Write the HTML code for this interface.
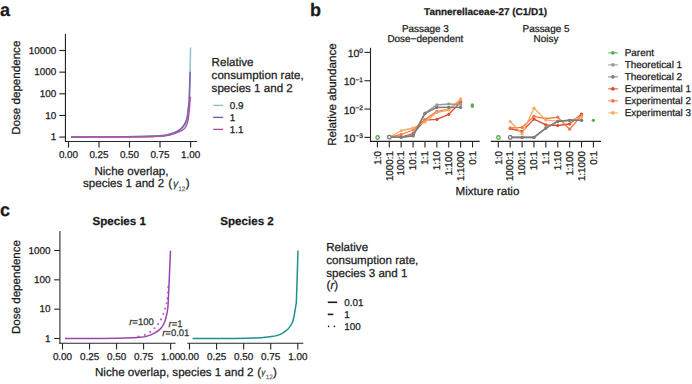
<!DOCTYPE html>
<html><head><meta charset="utf-8"><style>
html,body{margin:0;padding:0;background:#fff;overflow:hidden;}
svg{display:block;font-family:"Liberation Sans", sans-serif;text-rendering:geometricPrecision;}
text{stroke-width:0.25px;paint-order:stroke;}
</style></head><body>
<svg width="692" height="384" viewBox="0 0 692 384">
<rect width="692" height="384" fill="#fff"/>
<text x="0.00" y="15.50" font-size="18" text-anchor="start" font-weight="bold" fill="#1a1a1a" stroke="#1a1a1a" >a</text>
<line x1="65.45" y1="34.00" x2="65.45" y2="142.10" stroke="#262626" stroke-width="1.15" />
<line x1="64.90" y1="141.50" x2="197.00" y2="141.50" stroke="#262626" stroke-width="1.15" />
<line x1="59.30" y1="50.50" x2="65.40" y2="50.50" stroke="#262626" stroke-width="1.15" />
<text x="56.30" y="53.80" font-size="9.9" text-anchor="end" font-weight="normal" fill="#1a1a1a" stroke="#1a1a1a" >10000</text>
<line x1="59.30" y1="72.15" x2="65.40" y2="72.15" stroke="#262626" stroke-width="1.15" />
<text x="56.30" y="75.45" font-size="9.9" text-anchor="end" font-weight="normal" fill="#1a1a1a" stroke="#1a1a1a" >1000</text>
<line x1="59.30" y1="93.80" x2="65.40" y2="93.80" stroke="#262626" stroke-width="1.15" />
<text x="56.30" y="97.10" font-size="9.9" text-anchor="end" font-weight="normal" fill="#1a1a1a" stroke="#1a1a1a" >100</text>
<line x1="59.30" y1="115.45" x2="65.40" y2="115.45" stroke="#262626" stroke-width="1.15" />
<text x="56.30" y="118.75" font-size="9.9" text-anchor="end" font-weight="normal" fill="#1a1a1a" stroke="#1a1a1a" >10</text>
<line x1="59.30" y1="137.10" x2="65.40" y2="137.10" stroke="#262626" stroke-width="1.15" />
<text x="56.30" y="140.40" font-size="9.9" text-anchor="end" font-weight="normal" fill="#1a1a1a" stroke="#1a1a1a" >1</text>
<line x1="68.50" y1="141.50" x2="68.50" y2="147.60" stroke="#262626" stroke-width="1.15" />
<text x="68.50" y="158.30" font-size="9.9" text-anchor="middle" font-weight="normal" fill="#1a1a1a" stroke="#1a1a1a" >0.00</text>
<line x1="99.00" y1="141.50" x2="99.00" y2="147.60" stroke="#262626" stroke-width="1.15" />
<text x="99.00" y="158.30" font-size="9.9" text-anchor="middle" font-weight="normal" fill="#1a1a1a" stroke="#1a1a1a" >0.25</text>
<line x1="129.50" y1="141.50" x2="129.50" y2="147.60" stroke="#262626" stroke-width="1.15" />
<text x="129.50" y="158.30" font-size="9.9" text-anchor="middle" font-weight="normal" fill="#1a1a1a" stroke="#1a1a1a" >0.50</text>
<line x1="160.00" y1="141.50" x2="160.00" y2="147.60" stroke="#262626" stroke-width="1.15" />
<text x="160.00" y="158.30" font-size="9.9" text-anchor="middle" font-weight="normal" fill="#1a1a1a" stroke="#1a1a1a" >0.75</text>
<line x1="190.60" y1="141.50" x2="190.60" y2="147.60" stroke="#262626" stroke-width="1.15" />
<text x="190.60" y="158.30" font-size="9.9" text-anchor="middle" font-weight="normal" fill="#1a1a1a" stroke="#1a1a1a" >1.00</text>
<text transform="translate(20.20,87.70) rotate(-90)" font-size="11.6" text-anchor="middle" font-weight="normal" fill="#1a1a1a" stroke="#1a1a1a">Dose dependence</text>
<text x="94.40" y="174.50" font-size="11.6" text-anchor="start" font-weight="normal" fill="#1a1a1a" stroke="#1a1a1a" >Niche overlap,</text>
<text x="83.00" y="187.40" font-size="11.6" fill="#1a1a1a" stroke="#1a1a1a">species 1 and 2 <tspan dx="0.8">(</tspan><tspan dx="0.9" font-style="italic" font-size="10.4" fill="#3a3a3a" stroke="#3a3a3a">γ</tspan><tspan font-size="6.5" dy="3.1" fill="#777" stroke="#777">12</tspan><tspan dx="0.4" dy="-3.1">)</tspan></text>
<path d="M71.00,137.10 C77.50,137.07 98.50,137.03 110.00,136.95 C121.50,136.87 132.50,136.74 140.00,136.60 C147.50,136.46 150.83,136.30 155.00,136.10 C159.17,135.90 162.29,135.78 165.00,135.40 C167.71,135.03 169.17,134.54 171.25,133.85 C173.33,133.16 175.76,132.21 177.50,131.25 C179.24,130.29 180.48,129.31 181.70,128.10 C182.92,126.89 183.93,125.56 184.80,124.00 C185.67,122.44 186.38,120.67 186.90,118.75 C187.42,116.83 187.59,114.76 187.90,112.50 C188.21,110.24 188.52,107.62 188.75,105.20 C188.98,102.78 189.11,102.20 189.30,98.00 C189.49,93.80 189.70,88.42 189.90,80.00 C190.10,71.58 190.40,52.92 190.50,47.50" fill="none" stroke="#98c6d0" stroke-width="1.6" stroke-linejoin="round" />
<path d="M71.00,137.10 C77.50,137.07 98.50,137.03 110.00,136.95 C121.50,136.87 132.50,136.74 140.00,136.60 C147.50,136.46 150.83,136.30 155.00,136.10 C159.17,135.90 162.29,135.78 165.00,135.40 C167.71,135.03 169.17,134.54 171.25,133.85 C173.33,133.16 175.76,132.21 177.50,131.25 C179.24,130.29 180.48,129.31 181.70,128.10 C182.92,126.89 183.93,125.56 184.80,124.00 C185.67,122.44 186.38,120.67 186.90,118.75 C187.42,116.83 187.59,114.76 187.90,112.50 C188.21,110.24 188.52,107.62 188.75,105.20 C188.98,102.78 189.11,102.20 189.30,98.00 C189.49,93.80 189.75,84.38 189.90,80.00 C190.05,75.62 190.15,73.08 190.20,71.70" fill="none" stroke="#7767b3" stroke-width="1.6" stroke-linejoin="round" />
<path d="M71.00,137.10 C77.50,137.08 98.50,137.05 110.00,137.00 C121.50,136.95 132.50,136.88 140.00,136.80 C147.50,136.72 150.83,136.65 155.00,136.50 C159.17,136.35 161.60,136.43 165.00,135.90 C168.40,135.37 172.62,134.17 175.40,133.30 C178.18,132.43 180.05,131.65 181.70,130.70 C183.35,129.75 184.35,128.90 185.30,127.60 C186.25,126.30 186.88,124.55 187.40,122.90 C187.92,121.25 188.05,120.13 188.40,117.70 C188.75,115.27 189.23,111.08 189.50,108.30 C189.77,105.52 189.83,102.93 190.00,101.00 C190.17,99.07 190.42,97.42 190.50,96.70" fill="none" stroke="#b252a6" stroke-width="1.4" stroke-linejoin="round" />
<text x="211.60" y="66.00" font-size="11.6" text-anchor="start" font-weight="normal" fill="#1a1a1a" stroke="#1a1a1a" >Relative</text>
<text x="211.60" y="79.00" font-size="11.6" text-anchor="start" font-weight="normal" fill="#1a1a1a" stroke="#1a1a1a" >consumption rate,</text>
<text x="211.60" y="92.00" font-size="11.6" text-anchor="start" font-weight="normal" fill="#1a1a1a" stroke="#1a1a1a" >species 1 and 2</text>
<line x1="213.20" y1="105.40" x2="223.20" y2="105.40" stroke="#86c0c4" stroke-width="1.3" />
<text x="229.80" y="108.70" font-size="9.9" text-anchor="start" font-weight="normal" fill="#1a1a1a" stroke="#1a1a1a" >0.9</text>
<line x1="213.20" y1="117.40" x2="223.20" y2="117.40" stroke="#6658a8" stroke-width="1.3" />
<text x="229.80" y="120.70" font-size="9.9" text-anchor="start" font-weight="normal" fill="#1a1a1a" stroke="#1a1a1a" >1</text>
<line x1="213.20" y1="129.40" x2="223.20" y2="129.40" stroke="#aa4a94" stroke-width="1.3" />
<text x="229.80" y="132.70" font-size="9.9" text-anchor="start" font-weight="normal" fill="#1a1a1a" stroke="#1a1a1a" >1.1</text>
<text x="310.00" y="15.60" font-size="18" text-anchor="start" font-weight="bold" fill="#1a1a1a" stroke="#1a1a1a" >b</text>
<text x="485.60" y="15.00" font-size="9.95" text-anchor="middle" font-weight="bold" fill="#1a1a1a" stroke="#1a1a1a" >Tannerellaceae-27 (C1/D1)</text>
<text x="425.40" y="32.30" font-size="9.95" text-anchor="middle" font-weight="normal" fill="#1a1a1a" stroke="#1a1a1a" >Passage 3</text>
<text x="425.40" y="42.20" font-size="9.95" text-anchor="middle" font-weight="normal" fill="#1a1a1a" stroke="#1a1a1a" >Dose−dependent</text>
<text x="546.00" y="32.30" font-size="9.95" text-anchor="middle" font-weight="normal" fill="#1a1a1a" stroke="#1a1a1a" >Passage 5</text>
<text x="546.00" y="42.20" font-size="9.95" text-anchor="middle" font-weight="normal" fill="#1a1a1a" stroke="#1a1a1a" >Noisy</text>
<line x1="370.50" y1="47.80" x2="370.50" y2="141.90" stroke="#262626" stroke-width="1.1" />
<line x1="364.50" y1="52.40" x2="370.50" y2="52.40" stroke="#262626" stroke-width="1.1" />
<text x="363" y="57.10" font-size="10.5" text-anchor="end" fill="#1a1a1a" stroke="#1a1a1a">10<tspan font-size="6.6" dy="-3.7">0</tspan></text>
<line x1="364.50" y1="80.73" x2="370.50" y2="80.73" stroke="#262626" stroke-width="1.1" />
<text x="363" y="85.43" font-size="10.5" text-anchor="end" fill="#1a1a1a" stroke="#1a1a1a">10<tspan font-size="6.6" dy="-3.7">−1</tspan></text>
<line x1="364.50" y1="109.07" x2="370.50" y2="109.07" stroke="#262626" stroke-width="1.1" />
<text x="363" y="113.77" font-size="10.5" text-anchor="end" fill="#1a1a1a" stroke="#1a1a1a">10<tspan font-size="6.6" dy="-3.7">−2</tspan></text>
<line x1="364.50" y1="137.40" x2="370.50" y2="137.40" stroke="#262626" stroke-width="1.1" />
<text x="363" y="142.10" font-size="10.5" text-anchor="end" fill="#1a1a1a" stroke="#1a1a1a">10<tspan font-size="6.6" dy="-3.7">−3</tspan></text>
<text transform="translate(335.90,94.60) rotate(-90)" font-size="11.6" text-anchor="middle" font-weight="normal" fill="#1a1a1a" stroke="#1a1a1a">Relative abundance</text>
<line x1="370.20" y1="141.35" x2="479.70" y2="141.35" stroke="#262626" stroke-width="1.1" />
<line x1="377.40" y1="141.35" x2="377.40" y2="147.50" stroke="#262626" stroke-width="1.1" />
<text transform="translate(380.70,150.90) rotate(-90)" font-size="9.9" text-anchor="end" font-weight="normal" fill="#1a1a1a" stroke="#1a1a1a">1:0</text>
<line x1="389.29" y1="141.35" x2="389.29" y2="147.50" stroke="#262626" stroke-width="1.1" />
<text transform="translate(392.59,150.90) rotate(-90)" font-size="9.9" text-anchor="end" font-weight="normal" fill="#1a1a1a" stroke="#1a1a1a">1000:1</text>
<line x1="401.18" y1="141.35" x2="401.18" y2="147.50" stroke="#262626" stroke-width="1.1" />
<text transform="translate(404.48,150.90) rotate(-90)" font-size="9.9" text-anchor="end" font-weight="normal" fill="#1a1a1a" stroke="#1a1a1a">100:1</text>
<line x1="413.07" y1="141.35" x2="413.07" y2="147.50" stroke="#262626" stroke-width="1.1" />
<text transform="translate(416.37,150.90) rotate(-90)" font-size="9.9" text-anchor="end" font-weight="normal" fill="#1a1a1a" stroke="#1a1a1a">10:1</text>
<line x1="424.96" y1="141.35" x2="424.96" y2="147.50" stroke="#262626" stroke-width="1.1" />
<text transform="translate(428.26,150.90) rotate(-90)" font-size="9.9" text-anchor="end" font-weight="normal" fill="#1a1a1a" stroke="#1a1a1a">1:1</text>
<line x1="436.85" y1="141.35" x2="436.85" y2="147.50" stroke="#262626" stroke-width="1.1" />
<text transform="translate(440.15,150.90) rotate(-90)" font-size="9.9" text-anchor="end" font-weight="normal" fill="#1a1a1a" stroke="#1a1a1a">1:10</text>
<line x1="448.74" y1="141.35" x2="448.74" y2="147.50" stroke="#262626" stroke-width="1.1" />
<text transform="translate(452.04,150.90) rotate(-90)" font-size="9.9" text-anchor="end" font-weight="normal" fill="#1a1a1a" stroke="#1a1a1a">1:100</text>
<line x1="460.63" y1="141.35" x2="460.63" y2="147.50" stroke="#262626" stroke-width="1.1" />
<text transform="translate(463.93,150.90) rotate(-90)" font-size="9.9" text-anchor="end" font-weight="normal" fill="#1a1a1a" stroke="#1a1a1a">1:1000</text>
<line x1="472.52" y1="141.35" x2="472.52" y2="147.50" stroke="#262626" stroke-width="1.1" />
<text transform="translate(475.82,150.90) rotate(-90)" font-size="9.9" text-anchor="end" font-weight="normal" fill="#1a1a1a" stroke="#1a1a1a">0:1</text>
<line x1="490.80" y1="141.35" x2="601.00" y2="141.35" stroke="#262626" stroke-width="1.1" />
<line x1="498.30" y1="141.35" x2="498.30" y2="147.50" stroke="#262626" stroke-width="1.1" />
<text transform="translate(501.60,150.90) rotate(-90)" font-size="9.9" text-anchor="end" font-weight="normal" fill="#1a1a1a" stroke="#1a1a1a">1:0</text>
<line x1="510.19" y1="141.35" x2="510.19" y2="147.50" stroke="#262626" stroke-width="1.1" />
<text transform="translate(513.49,150.90) rotate(-90)" font-size="9.9" text-anchor="end" font-weight="normal" fill="#1a1a1a" stroke="#1a1a1a">1000:1</text>
<line x1="522.08" y1="141.35" x2="522.08" y2="147.50" stroke="#262626" stroke-width="1.1" />
<text transform="translate(525.38,150.90) rotate(-90)" font-size="9.9" text-anchor="end" font-weight="normal" fill="#1a1a1a" stroke="#1a1a1a">100:1</text>
<line x1="533.97" y1="141.35" x2="533.97" y2="147.50" stroke="#262626" stroke-width="1.1" />
<text transform="translate(537.27,150.90) rotate(-90)" font-size="9.9" text-anchor="end" font-weight="normal" fill="#1a1a1a" stroke="#1a1a1a">10:1</text>
<line x1="545.86" y1="141.35" x2="545.86" y2="147.50" stroke="#262626" stroke-width="1.1" />
<text transform="translate(549.16,150.90) rotate(-90)" font-size="9.9" text-anchor="end" font-weight="normal" fill="#1a1a1a" stroke="#1a1a1a">1:1</text>
<line x1="557.75" y1="141.35" x2="557.75" y2="147.50" stroke="#262626" stroke-width="1.1" />
<text transform="translate(561.05,150.90) rotate(-90)" font-size="9.9" text-anchor="end" font-weight="normal" fill="#1a1a1a" stroke="#1a1a1a">1:10</text>
<line x1="569.64" y1="141.35" x2="569.64" y2="147.50" stroke="#262626" stroke-width="1.1" />
<text transform="translate(572.94,150.90) rotate(-90)" font-size="9.9" text-anchor="end" font-weight="normal" fill="#1a1a1a" stroke="#1a1a1a">1:100</text>
<line x1="581.53" y1="141.35" x2="581.53" y2="147.50" stroke="#262626" stroke-width="1.1" />
<text transform="translate(584.83,150.90) rotate(-90)" font-size="9.9" text-anchor="end" font-weight="normal" fill="#1a1a1a" stroke="#1a1a1a">1:1000</text>
<line x1="593.42" y1="141.35" x2="593.42" y2="147.50" stroke="#262626" stroke-width="1.1" />
<text transform="translate(596.72,150.90) rotate(-90)" font-size="9.9" text-anchor="end" font-weight="normal" fill="#1a1a1a" stroke="#1a1a1a">0:1</text>
<text x="487.50" y="195.40" font-size="11.6" text-anchor="middle" font-weight="normal" fill="#1a1a1a" stroke="#1a1a1a" >Mixture ratio</text>
<polyline points="389.29,137.20 401.18,137.20 413.07,133.50 424.96,120.20 436.85,119.40 448.74,114.30 460.63,102.20" fill="none" stroke="#dc4a2c" stroke-width="1.3" stroke-linejoin="round" stroke-linecap="butt" />
<circle cx="389.29" cy="137.20" r="1.6" fill="#dc4a2c"/>
<circle cx="401.18" cy="137.20" r="1.6" fill="#dc4a2c"/>
<circle cx="413.07" cy="133.50" r="1.6" fill="#dc4a2c"/>
<circle cx="424.96" cy="120.20" r="1.6" fill="#dc4a2c"/>
<circle cx="436.85" cy="119.40" r="1.6" fill="#dc4a2c"/>
<circle cx="448.74" cy="114.30" r="1.6" fill="#dc4a2c"/>
<circle cx="460.63" cy="102.20" r="1.6" fill="#dc4a2c"/>
<polyline points="389.29,137.20 401.18,134.50 413.07,130.00 424.96,119.60 436.85,111.40 448.74,109.30 460.63,100.90" fill="none" stroke="#ef784a" stroke-width="1.3" stroke-linejoin="round" stroke-linecap="butt" />
<circle cx="389.29" cy="137.20" r="1.6" fill="#ef784a"/>
<circle cx="401.18" cy="134.50" r="1.6" fill="#ef784a"/>
<circle cx="413.07" cy="130.00" r="1.6" fill="#ef784a"/>
<circle cx="424.96" cy="119.60" r="1.6" fill="#ef784a"/>
<circle cx="436.85" cy="111.40" r="1.6" fill="#ef784a"/>
<circle cx="448.74" cy="109.30" r="1.6" fill="#ef784a"/>
<circle cx="460.63" cy="100.90" r="1.6" fill="#ef784a"/>
<polyline points="389.29,137.20 401.18,130.75 413.07,128.00 424.96,122.00 436.85,112.60 448.74,110.00 460.63,98.90" fill="none" stroke="#f8aa62" stroke-width="1.3" stroke-linejoin="round" stroke-linecap="butt" />
<circle cx="389.29" cy="137.20" r="1.6" fill="#f8aa62"/>
<circle cx="401.18" cy="130.75" r="1.6" fill="#f8aa62"/>
<circle cx="413.07" cy="128.00" r="1.6" fill="#f8aa62"/>
<circle cx="424.96" cy="122.00" r="1.6" fill="#f8aa62"/>
<circle cx="436.85" cy="112.60" r="1.6" fill="#f8aa62"/>
<circle cx="448.74" cy="110.00" r="1.6" fill="#f8aa62"/>
<circle cx="460.63" cy="98.90" r="1.6" fill="#f8aa62"/>
<polyline points="389.29,137.20 401.18,137.20 413.07,135.40 424.96,113.20 436.85,104.90 448.74,103.90 460.63,104.40" fill="none" stroke="#9a9a9a" stroke-width="1.5" stroke-linejoin="round" stroke-linecap="butt" />
<circle cx="389.29" cy="137.20" r="1.75" fill="white" stroke="#9a9a9a" stroke-width="1.3"/>
<circle cx="401.18" cy="137.20" r="1.6" fill="#9a9a9a"/>
<circle cx="413.07" cy="135.40" r="1.6" fill="#9a9a9a"/>
<circle cx="424.96" cy="113.20" r="1.6" fill="#9a9a9a"/>
<circle cx="436.85" cy="104.90" r="1.6" fill="#9a9a9a"/>
<circle cx="448.74" cy="103.90" r="1.6" fill="#9a9a9a"/>
<circle cx="460.63" cy="104.40" r="1.6" fill="#9a9a9a"/>
<polyline points="389.29,137.20 401.18,137.20 413.07,135.90 424.96,113.60 436.85,107.40 448.74,107.30 460.63,107.40" fill="none" stroke="#7c7c7c" stroke-width="1.5" stroke-linejoin="round" stroke-linecap="butt" />
<circle cx="389.29" cy="137.20" r="1.75" fill="white" stroke="#7c7c7c" stroke-width="1.3"/>
<circle cx="401.18" cy="137.20" r="1.6" fill="#7c7c7c"/>
<circle cx="413.07" cy="135.90" r="1.6" fill="#7c7c7c"/>
<circle cx="424.96" cy="113.60" r="1.6" fill="#7c7c7c"/>
<circle cx="436.85" cy="107.40" r="1.6" fill="#7c7c7c"/>
<circle cx="448.74" cy="107.30" r="1.6" fill="#7c7c7c"/>
<circle cx="460.63" cy="107.40" r="1.6" fill="#7c7c7c"/>
<circle cx="377.6" cy="137.5" r="1.75" fill="white" stroke="#52ae4f" stroke-width="1.3"/>
<circle cx="472.3" cy="104.8" r="1.6" fill="#52ae4f"/>
<circle cx="472.3" cy="106.3" r="1.6" fill="#52ae4f"/>
<polyline points="510.19,128.50 522.08,131.50 533.97,119.10 545.86,124.90 557.75,125.50 569.64,124.00 581.53,114.00" fill="none" stroke="#dc4a2c" stroke-width="1.3" stroke-linejoin="round" stroke-linecap="butt" />
<circle cx="510.19" cy="128.50" r="1.6" fill="#dc4a2c"/>
<circle cx="522.08" cy="131.50" r="1.6" fill="#dc4a2c"/>
<circle cx="533.97" cy="119.10" r="1.6" fill="#dc4a2c"/>
<circle cx="545.86" cy="124.90" r="1.6" fill="#dc4a2c"/>
<circle cx="557.75" cy="125.50" r="1.6" fill="#dc4a2c"/>
<circle cx="569.64" cy="124.00" r="1.6" fill="#dc4a2c"/>
<circle cx="581.53" cy="114.00" r="1.6" fill="#dc4a2c"/>
<polyline points="510.19,127.90 522.08,127.40 533.97,116.30 545.86,118.75 557.75,117.20 569.64,129.20 581.53,115.60" fill="none" stroke="#ef784a" stroke-width="1.3" stroke-linejoin="round" stroke-linecap="butt" />
<circle cx="510.19" cy="127.90" r="1.6" fill="#ef784a"/>
<circle cx="522.08" cy="127.40" r="1.6" fill="#ef784a"/>
<circle cx="533.97" cy="116.30" r="1.6" fill="#ef784a"/>
<circle cx="545.86" cy="118.75" r="1.6" fill="#ef784a"/>
<circle cx="557.75" cy="117.20" r="1.6" fill="#ef784a"/>
<circle cx="569.64" cy="129.20" r="1.6" fill="#ef784a"/>
<circle cx="581.53" cy="115.60" r="1.6" fill="#ef784a"/>
<polyline points="510.19,121.50 522.08,133.80 533.97,108.20 545.86,119.90 557.75,121.40 569.64,120.30 581.53,117.20" fill="none" stroke="#f8aa62" stroke-width="1.3" stroke-linejoin="round" stroke-linecap="butt" />
<circle cx="510.19" cy="121.50" r="1.6" fill="#f8aa62"/>
<circle cx="522.08" cy="133.80" r="1.6" fill="#f8aa62"/>
<circle cx="533.97" cy="108.20" r="1.6" fill="#f8aa62"/>
<circle cx="545.86" cy="119.90" r="1.6" fill="#f8aa62"/>
<circle cx="557.75" cy="121.40" r="1.6" fill="#f8aa62"/>
<circle cx="569.64" cy="120.30" r="1.6" fill="#f8aa62"/>
<circle cx="581.53" cy="117.20" r="1.6" fill="#f8aa62"/>
<polyline points="510.19,137.40 522.08,137.40 533.97,137.40 545.86,128.10 557.75,121.40 569.64,120.30 581.53,120.30" fill="none" stroke="#9a9a9a" stroke-width="1.6" stroke-linejoin="round" stroke-linecap="butt" />
<circle cx="510.19" cy="137.40" r="1.75" fill="white" stroke="#9a9a9a" stroke-width="1.3"/>
<circle cx="522.08" cy="137.40" r="1.6" fill="#9a9a9a"/>
<circle cx="533.97" cy="137.40" r="1.6" fill="#9a9a9a"/>
<circle cx="545.86" cy="128.10" r="1.6" fill="#9a9a9a"/>
<circle cx="557.75" cy="121.40" r="1.6" fill="#9a9a9a"/>
<circle cx="569.64" cy="120.30" r="1.6" fill="#9a9a9a"/>
<circle cx="581.53" cy="120.30" r="1.6" fill="#9a9a9a"/>
<polyline points="510.19,137.40 522.08,137.40 533.97,137.40 545.86,128.10 557.75,121.40 569.64,120.30 581.53,120.30" fill="none" stroke="#7c7c7c" stroke-width="1.6" stroke-linejoin="round" stroke-linecap="butt" />
<circle cx="510.19" cy="137.40" r="1.75" fill="white" stroke="#7c7c7c" stroke-width="1.3"/>
<circle cx="522.08" cy="137.40" r="1.6" fill="#7c7c7c"/>
<circle cx="533.97" cy="137.40" r="1.6" fill="#7c7c7c"/>
<circle cx="545.86" cy="128.10" r="1.6" fill="#7c7c7c"/>
<circle cx="557.75" cy="121.40" r="1.6" fill="#7c7c7c"/>
<circle cx="569.64" cy="120.30" r="1.6" fill="#7c7c7c"/>
<circle cx="581.53" cy="120.30" r="1.6" fill="#7c7c7c"/>
<circle cx="498.4" cy="137.5" r="1.75" fill="white" stroke="#52ae4f" stroke-width="1.3"/>
<circle cx="593.4" cy="120.3" r="1.6" fill="#52ae4f"/>
<line x1="608.20" y1="52.90" x2="618.00" y2="52.90" stroke="#52ae4f" stroke-width="1.0" />
<circle cx="612.9" cy="52.9" r="1.8" fill="#52ae4f"/>
<text x="624.70" y="56.30" font-size="9.95" text-anchor="start" font-weight="normal" fill="#1a1a1a" stroke="#1a1a1a" >Parent</text>
<line x1="608.20" y1="64.90" x2="618.00" y2="64.90" stroke="#9a9a9a" stroke-width="1.0" />
<circle cx="612.9" cy="64.9" r="1.8" fill="#9a9a9a"/>
<text x="624.70" y="68.30" font-size="9.95" text-anchor="start" font-weight="normal" fill="#1a1a1a" stroke="#1a1a1a" >Theoretical 1</text>
<line x1="608.20" y1="76.90" x2="618.00" y2="76.90" stroke="#7c7c7c" stroke-width="1.0" />
<circle cx="612.9" cy="76.9" r="1.8" fill="#7c7c7c"/>
<text x="624.70" y="80.30" font-size="9.95" text-anchor="start" font-weight="normal" fill="#1a1a1a" stroke="#1a1a1a" >Theoretical 2</text>
<line x1="608.20" y1="88.90" x2="618.00" y2="88.90" stroke="#dc4a2c" stroke-width="1.0" />
<circle cx="612.9" cy="88.9" r="1.8" fill="#dc4a2c"/>
<text x="624.70" y="92.30" font-size="9.95" text-anchor="start" font-weight="normal" fill="#1a1a1a" stroke="#1a1a1a" >Experimental 1</text>
<line x1="608.20" y1="100.90" x2="618.00" y2="100.90" stroke="#ef784a" stroke-width="1.0" />
<circle cx="612.9" cy="100.9" r="1.8" fill="#ef784a"/>
<text x="624.70" y="104.30" font-size="9.95" text-anchor="start" font-weight="normal" fill="#1a1a1a" stroke="#1a1a1a" >Experimental 2</text>
<line x1="608.20" y1="112.90" x2="618.00" y2="112.90" stroke="#f8aa62" stroke-width="1.0" />
<circle cx="612.9" cy="112.9" r="1.8" fill="#f8aa62"/>
<text x="624.70" y="116.30" font-size="9.95" text-anchor="start" font-weight="normal" fill="#1a1a1a" stroke="#1a1a1a" >Experimental 3</text>
<text x="0.00" y="215.50" font-size="18" text-anchor="start" font-weight="bold" fill="#1a1a1a" stroke="#1a1a1a" >c</text>
<text x="119.20" y="224.50" font-size="11.6" text-anchor="middle" font-weight="bold" fill="#1a1a1a" stroke="#1a1a1a" >Species 1</text>
<text x="247.00" y="224.50" font-size="11.6" text-anchor="middle" font-weight="bold" fill="#1a1a1a" stroke="#1a1a1a" >Species 2</text>
<line x1="59.90" y1="230.90" x2="59.90" y2="343.80" stroke="#4a4a4a" stroke-width="1.3" />
<line x1="59.30" y1="343.30" x2="175.60" y2="343.30" stroke="#262626" stroke-width="1.1" />
<line x1="54.20" y1="250.50" x2="59.80" y2="250.50" stroke="#262626" stroke-width="1.1" />
<text x="50.50" y="253.80" font-size="9.9" text-anchor="end" font-weight="normal" fill="#1a1a1a" stroke="#1a1a1a" >1000</text>
<line x1="54.20" y1="279.83" x2="59.80" y2="279.83" stroke="#262626" stroke-width="1.1" />
<text x="50.50" y="283.13" font-size="9.9" text-anchor="end" font-weight="normal" fill="#1a1a1a" stroke="#1a1a1a" >100</text>
<line x1="54.20" y1="309.17" x2="59.80" y2="309.17" stroke="#262626" stroke-width="1.1" />
<text x="50.50" y="312.47" font-size="9.9" text-anchor="end" font-weight="normal" fill="#1a1a1a" stroke="#1a1a1a" >10</text>
<line x1="54.20" y1="338.50" x2="59.80" y2="338.50" stroke="#262626" stroke-width="1.1" />
<text x="50.50" y="341.80" font-size="9.9" text-anchor="end" font-weight="normal" fill="#1a1a1a" stroke="#1a1a1a" >1</text>
<line x1="62.50" y1="343.30" x2="62.50" y2="349.50" stroke="#262626" stroke-width="1.1" />
<text x="62.50" y="360.00" font-size="9.9" text-anchor="middle" font-weight="normal" fill="#1a1a1a" stroke="#1a1a1a" >0.00</text>
<line x1="89.53" y1="343.30" x2="89.53" y2="349.50" stroke="#262626" stroke-width="1.1" />
<text x="89.53" y="360.00" font-size="9.9" text-anchor="middle" font-weight="normal" fill="#1a1a1a" stroke="#1a1a1a" >0.25</text>
<line x1="116.56" y1="343.30" x2="116.56" y2="349.50" stroke="#262626" stroke-width="1.1" />
<text x="116.56" y="360.00" font-size="9.9" text-anchor="middle" font-weight="normal" fill="#1a1a1a" stroke="#1a1a1a" >0.50</text>
<line x1="143.59" y1="343.30" x2="143.59" y2="349.50" stroke="#262626" stroke-width="1.1" />
<text x="143.59" y="360.00" font-size="9.9" text-anchor="middle" font-weight="normal" fill="#1a1a1a" stroke="#1a1a1a" >0.75</text>
<line x1="170.62" y1="343.30" x2="170.62" y2="349.50" stroke="#262626" stroke-width="1.1" />
<text x="170.62" y="360.00" font-size="9.9" text-anchor="middle" font-weight="normal" fill="#1a1a1a" stroke="#1a1a1a" >1.00</text>
<line x1="189.50" y1="343.30" x2="189.50" y2="349.50" stroke="#262626" stroke-width="1.1" />
<text x="189.50" y="360.00" font-size="9.9" text-anchor="middle" font-weight="normal" fill="#1a1a1a" stroke="#1a1a1a" >0.00</text>
<line x1="216.58" y1="343.30" x2="216.58" y2="349.50" stroke="#262626" stroke-width="1.1" />
<text x="216.58" y="360.00" font-size="9.9" text-anchor="middle" font-weight="normal" fill="#1a1a1a" stroke="#1a1a1a" >0.25</text>
<line x1="243.66" y1="343.30" x2="243.66" y2="349.50" stroke="#262626" stroke-width="1.1" />
<text x="243.66" y="360.00" font-size="9.9" text-anchor="middle" font-weight="normal" fill="#1a1a1a" stroke="#1a1a1a" >0.50</text>
<line x1="270.74" y1="343.30" x2="270.74" y2="349.50" stroke="#262626" stroke-width="1.1" />
<text x="270.74" y="360.00" font-size="9.9" text-anchor="middle" font-weight="normal" fill="#1a1a1a" stroke="#1a1a1a" >0.75</text>
<line x1="297.82" y1="343.30" x2="297.82" y2="349.50" stroke="#262626" stroke-width="1.1" />
<text x="297.82" y="360.00" font-size="9.9" text-anchor="middle" font-weight="normal" fill="#1a1a1a" stroke="#1a1a1a" >1.00</text>
<line x1="187.25" y1="343.30" x2="303.30" y2="343.30" stroke="#262626" stroke-width="1.1" />
<text transform="translate(20.20,287.00) rotate(-90)" font-size="11.6" text-anchor="middle" font-weight="normal" fill="#1a1a1a" stroke="#1a1a1a">Dose dependence</text>
<text x="95" y="375.6" font-size="11.6" fill="#1a1a1a" stroke="#1a1a1a">Niche overlap, species 1 and 2 <tspan dx="0.6">(</tspan><tspan dx="0.1" dy="-0.8" font-style="italic" font-size="8.2" fill="#3a3a3a" stroke="#3a3a3a">γ</tspan><tspan dx="0.4" font-size="6.3" dy="4.2" fill="#777" stroke="#777">12</tspan><tspan dx="0.1" dy="-3.4">)</tspan></text>
<path d="M65.00,338.50 C70.83,338.48 90.00,338.48 100.00,338.40 C110.00,338.32 118.33,338.18 125.00,338.00 C131.67,337.82 136.30,337.62 140.00,337.30 C143.70,336.98 144.80,336.80 147.20,336.10 C149.60,335.40 152.20,334.30 154.40,333.10 C156.60,331.90 158.80,330.50 160.40,328.90 C162.00,327.30 163.02,325.58 164.00,323.50 C164.98,321.42 165.67,318.98 166.30,316.40 C166.93,313.82 167.43,311.40 167.80,308.00 C168.17,304.60 168.05,305.57 168.50,296.00 C168.95,286.43 170.17,258.17 170.50,250.60" fill="none" stroke="#9a44b0" stroke-width="1.5" stroke-linejoin="round" />
<circle cx="138.5" cy="336.5" r="1.05" fill="#9a44b0" fill-opacity="0.8"/>
<circle cx="144.8" cy="334.9" r="1.05" fill="#9a44b0" fill-opacity="0.8"/>
<circle cx="150.2" cy="331.9" r="1.05" fill="#9a44b0" fill-opacity="0.8"/>
<circle cx="154.4" cy="328.3" r="1.05" fill="#9a44b0" fill-opacity="0.8"/>
<circle cx="158" cy="324.1" r="1.05" fill="#9a44b0" fill-opacity="0.8"/>
<circle cx="161" cy="319.4" r="1.05" fill="#9a44b0" fill-opacity="0.8"/>
<circle cx="163.4" cy="314" r="1.05" fill="#9a44b0" fill-opacity="0.8"/>
<circle cx="165.1" cy="308.6" r="1.05" fill="#9a44b0" fill-opacity="0.8"/>
<circle cx="166.6" cy="303.2" r="1.05" fill="#9a44b0" fill-opacity="0.8"/>
<circle cx="167.5" cy="298.4" r="1.05" fill="#9a44b0" fill-opacity="0.8"/>
<circle cx="167.9" cy="292.5" r="1.05" fill="#9a44b0" fill-opacity="0.8"/>
<circle cx="168.2" cy="287" r="1.05" fill="#9a44b0" fill-opacity="0.8"/>
<path d="M192.50,338.50 C198.75,338.48 219.58,338.48 230.00,338.40 C240.42,338.32 248.33,338.29 255.00,338.00 C261.67,337.71 266.40,337.05 270.00,336.65 C273.60,336.25 274.42,336.24 276.60,335.60 C278.78,334.96 281.40,333.73 283.10,332.80 C284.80,331.87 285.88,330.73 286.80,330.00 C287.72,329.27 287.75,329.48 288.60,328.40 C289.45,327.32 291.07,325.15 291.90,323.50 C292.73,321.85 293.07,320.75 293.60,318.50 C294.13,316.25 294.70,312.35 295.10,310.00 C295.50,307.65 295.77,306.40 296.00,304.40 C296.23,302.40 296.17,306.98 296.50,298.00 C296.83,289.02 297.75,258.42 298.00,250.50" fill="none" stroke="#1f9090" stroke-width="1.5" stroke-linejoin="round" />
<text x="129.2" y="325" font-size="9.5" fill="#333" stroke="#333"><tspan font-style="italic">r</tspan>=100</text>
<text x="168.5" y="327" font-size="9.5" fill="#333" stroke="#333"><tspan font-style="italic">r</tspan>=1</text>
<text x="162.2" y="336" font-size="9.5" fill="#333" stroke="#333"><tspan font-style="italic">r</tspan>=0.01</text>
<text x="326.20" y="251.00" font-size="11.6" text-anchor="start" font-weight="normal" fill="#1a1a1a" stroke="#1a1a1a" >Relative</text>
<text x="326.20" y="264.00" font-size="11.6" text-anchor="start" font-weight="normal" fill="#1a1a1a" stroke="#1a1a1a" >consumption rate,</text>
<text x="326.20" y="276.60" font-size="11.6" text-anchor="start" font-weight="normal" fill="#1a1a1a" stroke="#1a1a1a" >species 3 and 1</text>
<text x="326.6" y="289" font-size="11.6" fill="#1a1a1a" stroke="#1a1a1a">(<tspan font-style="italic">r</tspan>)</text>
<line x1="327.80" y1="302.30" x2="337.20" y2="302.30" stroke="#1a1a1a" stroke-width="1.6" />
<text x="344.30" y="305.60" font-size="9.9" text-anchor="start" font-weight="normal" fill="#1a1a1a" stroke="#1a1a1a" >0.01</text>
<line x1="327.80" y1="314.40" x2="333.30" y2="314.40" stroke="#1a1a1a" stroke-width="1.6" />
<text x="344.30" y="317.70" font-size="9.9" text-anchor="start" font-weight="normal" fill="#1a1a1a" stroke="#1a1a1a" >1</text>
<circle cx="328.6" cy="326.4" r="0.8" fill="#1a1a1a"/><circle cx="334.4" cy="326.4" r="0.8" fill="#1a1a1a"/>
<text x="344.30" y="329.70" font-size="9.9" text-anchor="start" font-weight="normal" fill="#1a1a1a" stroke="#1a1a1a" >100</text>
</svg></body></html>
